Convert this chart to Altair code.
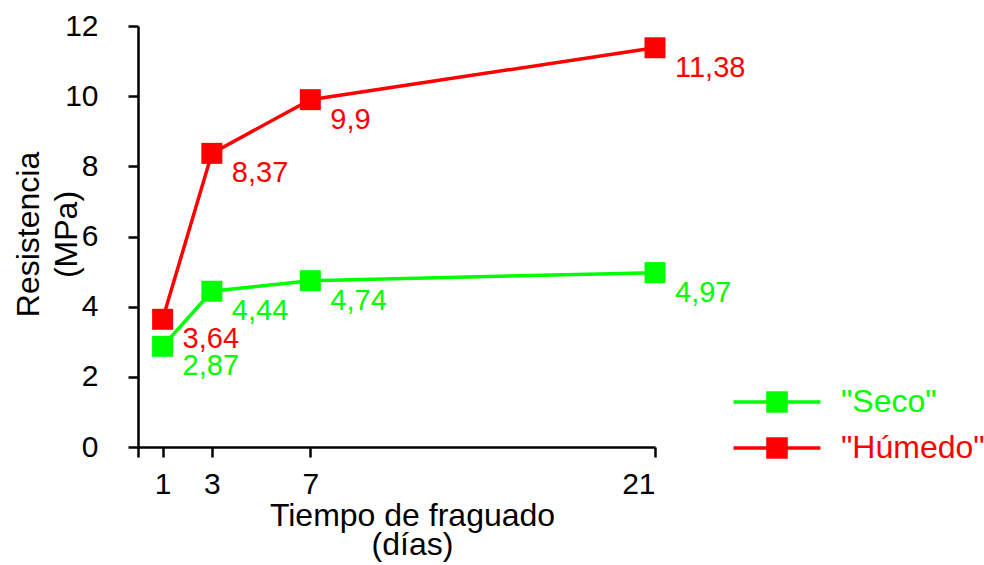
import altair as alt
import pandas as pd

dias = [1, 3, 7, 21]
seco = [2.87, 4.44, 4.74, 4.97]
humedo = [3.64, 8.37, 9.9, 11.38]
series = ["Seco", "Húmedo"]
colores = ["#00ff00", "#ff0000"]
x_ticks = [0, 1, 3, 7, 21]
y_ticks = [0, 2, 4, 6, 8, 10, 12]

rows = []
for name, vals in zip(series, [seco, humedo]):
    for d, v in zip(dias, vals):
        rows.append({"dias": d, "res": v, "serie": name,
                     "etiqueta": str(v).replace(".", ",")})
df = pd.DataFrame(rows)

FONT = "Liberation Sans"

legend = alt.Legend(
    title=None,
    orient="none",
    legendX=623,
    legendY=360,
    padding=0,
    symbolType="M-4.14,0L4.14,0M-0.86,-0.86L0.86,-0.86L0.86,0.86L-0.86,0.86Z",
    symbolSize=441,
    symbolStrokeWidth=3.5,
    labelOffset=48,
    labelFont=FONT,
    labelFontSize=32,
    labelExpr="'\"' + datum.label + '\"'",
    labelColor=alt.ExprRef(expr="datum.value === 'Seco' ? '#00ff00' : '#ff0000'"),
    rowPadding=12,
)

color = alt.Color("serie:N", scale=alt.Scale(domain=series, range=colores), legend=legend)

x = alt.X(
    "dias:Q",
    scale=alt.Scale(domain=[0, 21], nice=False, zero=False),
    axis=alt.Axis(
        values=x_ticks,
        labelExpr="datum.value == 0 ? '' : datum.label",
        title=["Tiempo de fraguado", "(días)"],
        titleBaseline="alphabetic",
        titleX=274,
        titleY=78,
        titleLineHeight=29,
        tickSize=10,
        labelPadding=12,
    ),
)
y = alt.Y(
    "res:Q",
    scale=alt.Scale(domain=[0, 12], nice=False),
    axis=alt.Axis(
        values=y_ticks,
        title=["Resistencia", "(MPa)"],
        titleBaseline="alphabetic",
        titleX=-100,
        titleY=208,
        titleLineHeight=38,
        tickSize=10,
        labelPadding=30,
    ),
)

base = alt.Chart(df)
lines = base.mark_line(strokeWidth=3.5).encode(x=x, y=y, color=color)
points = base.mark_point(shape="square", filled=True, size=441, opacity=1).encode(x=x, y=y, color=color)
labels = base.mark_text(align="left", baseline="middle", dx=20, dy=20, fontSize=29, font=FONT).encode(
    x=x, y=y, text="etiqueta:N", color=color
)

chart = (
    alt.layer(lines, points, labels)
    .properties(
        width=517,
        height=421,
        autosize=alt.AutoSizeParams(type="none"),
        padding={"left": 138, "top": 26, "right": 329, "bottom": 118},
    )
    .configure(font=FONT)
    .configure_view(stroke=None)
    .configure_axis(
        grid=False,
        domainColor="black",
        domainWidth=2.5,
        tickColor="black",
        tickWidth=2.5,
        labelColor="black",
        labelFont=FONT,
        labelFontSize=30,
        titleFont=FONT,
        titleFontSize=32,
        titleFontWeight="normal",
        titleColor="black",
    )
)

chart.save("out.html", embed_options={"renderer": "svg", "actions": False})
